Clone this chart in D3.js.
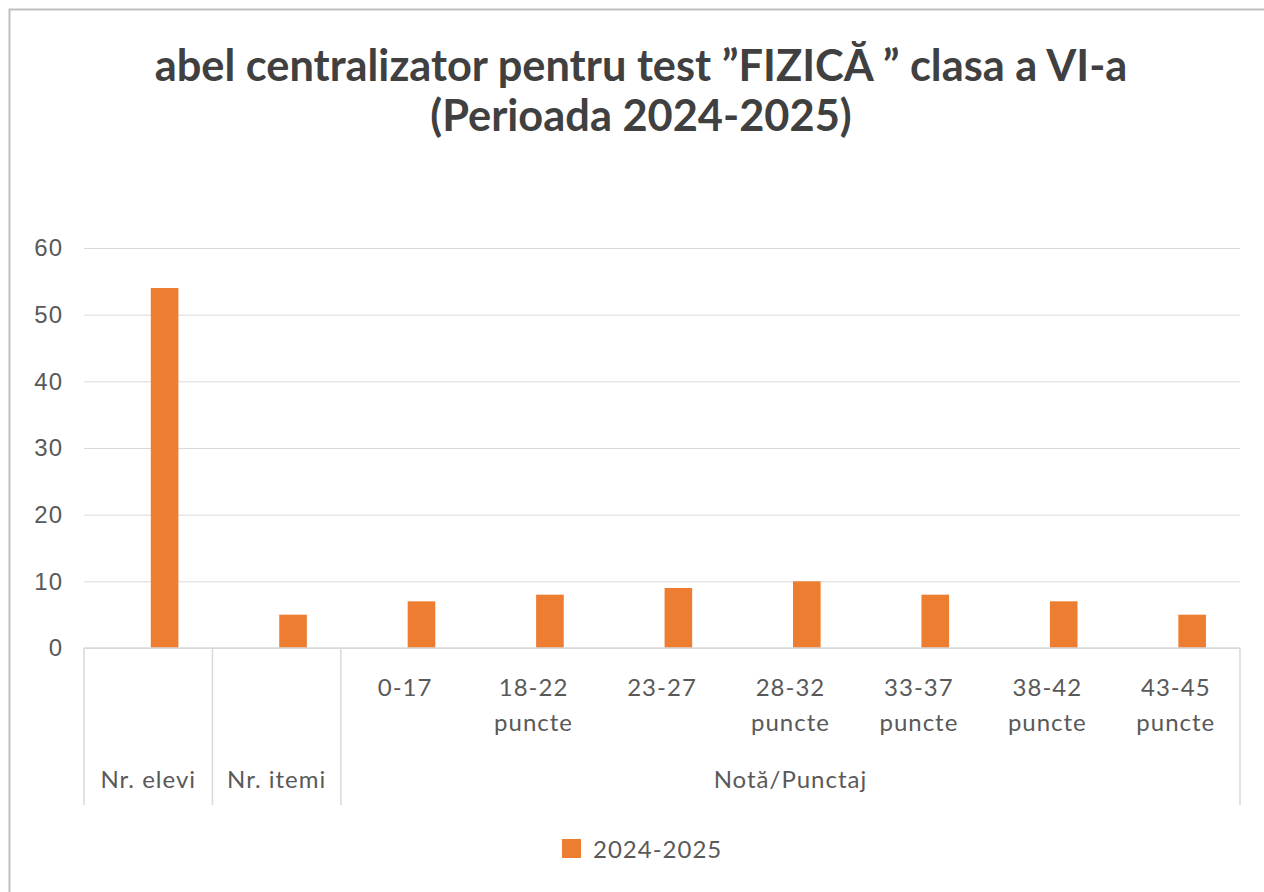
<!DOCTYPE html>
<html>
<head>
<meta charset="utf-8">
<script src="https://cdn.jsdelivr.net/npm/d3@7"></script>
<style>
  html, body { margin: 0; padding: 0; background: #fff; }
  svg { display: block; font-family: Lato, "Open Sans", sans-serif; }
</style>
</head>
<body>
<div id="chart"></div>
<script>
// data
const titleLines = ['abel centralizator pentru test ”FIZICĂ ” clasa a VI-a', '(Perioada 2024-2025)'];
const seriesName = '2024-2025';
const groups = ['Nr. elevi', 'Nr. itemi', 'Notă/Punctaj'];
const categoryGroup = ['Nr. elevi', 'Nr. itemi', 'Notă/Punctaj', 'Notă/Punctaj', 'Notă/Punctaj',
    'Notă/Punctaj', 'Notă/Punctaj', 'Notă/Punctaj', 'Notă/Punctaj'];
const categoryLabels = ['', '', '0-17', '18-22 puncte', '23-27', '28-32 puncte',
    '33-37 puncte', '38-42 puncte', '43-45 puncte'];
const values = [54, 5, 7, 8, 9, 10, 8, 7, 5];
const yTicks = [0, 10, 20, 30, 40, 50, 60];

const svgWidth = 1264;
const svgHeight = 892;
const margin = { top: 248, right: 24, bottom: 244, left: 84 };
const width = svgWidth - margin.left - margin.right;
const height = svgHeight - margin.top - margin.bottom;
const textColor = '#595959';
const lineColor = '#d9d9d9';
const barColor = '#ed7d31';
const labelSize = '24px';
const labelSpacing = '1px';

const svg = d3.select('#chart')
    .append('svg')
    .attr('width', svgWidth)
    .attr('height', svgHeight);

// chart area outline
svg.append('rect')
    .attr('x', 9.5)
    .attr('y', 9.5)
    .attr('width', svgWidth + 20)
    .attr('height', svgHeight + 20)
    .attr('fill', 'none')
    .attr('stroke', '#bfbfbf')
    .attr('stroke-width', 2);

// title, fitted to the width it has in the picture
const title = svg.append('g').attr('class', 'title');
const titleY = [81, 131];
titleLines.forEach((line, i) => {
    title.append('text')
        .attr('x', 641)
        .attr('y', titleY[i])
        .attr('text-anchor', 'middle')
        .style('font-size', '36px')
        .style('font-weight', 700)
        .style('fill', '#404040')
        .text(line);
});
const firstLen = title.select('text').node().getComputedTextLength();
const titleSize = 36 * 973 / firstLen;
title.selectAll('text').style('font-size', `${titleSize}px`);

const bounds = svg.append('g')
    .attr('transform', `translate(${margin.left}, ${margin.top})`);

const xScale = d3.scaleBand()
    .domain(d3.range(values.length))
    .range([0, width])
    .padding(0);

const yScale = d3.scaleLinear()
    .domain([0, 60])
    .range([height, 0]);

const yAxisGroup = bounds.append('g')
    .attr('class', 'y axis')
    .call(d3.axisLeft(yScale)
        .tickValues(yTicks)
        .tickSize(-width)
        .tickPadding(21));
yAxisGroup.select('.domain').remove();
yAxisGroup.selectAll('line').attr('stroke', lineColor);
yAxisGroup.selectAll('text')
    .style('font-size', labelSize)
    .style('letter-spacing', labelSpacing)
    .style('fill', textColor);

// bars sit a little right of the band centre, as in the original
const bw = xScale.bandwidth();
bounds.selectAll('.bar')
    .data(values)
    .enter()
    .append('rect')
    .attr('class', 'bar')
    .attr('x', (d, i) => xScale(i) + bw * 0.52)
    .attr('width', bw * 0.215)
    .attr('y', d => yScale(d))
    .attr('height', d => yScale(0) - yScale(d))
    .attr('fill', barColor);

// multi-level category axis
const axisBottom = bounds.append('g')
    .attr('class', 'x axis')
    .attr('transform', `translate(0, ${height})`);

axisBottom.append('line')
    .attr('x1', 0).attr('x2', width)
    .attr('y1', 0).attr('y2', 0)
    .attr('stroke', lineColor)
    .attr('stroke-width', 1.5);

const groupSpans = groups.map(g => {
    const idx = d3.range(values.length).filter(i => categoryGroup[i] === g);
    return {
        name: g,
        x0: xScale(idx[0]),
        x1: xScale(idx[idx.length - 1]) + bw
    };
});

const sepX = [0, ...groupSpans.map(s => s.x1)];
axisBottom.selectAll('.sep')
    .data(sepX)
    .enter()
    .append('line')
    .attr('class', 'sep')
    .attr('x1', d => d).attr('x2', d => d)
    .attr('y1', 0).attr('y2', 157)
    .attr('stroke', lineColor)
    .attr('stroke-width', 1.5);

axisBottom.selectAll('.cat')
    .data(categoryLabels)
    .enter()
    .append('text')
    .attr('class', 'cat')
    .attr('text-anchor', 'middle')
    .attr('transform', (d, i) => `translate(${xScale(i) + bw / 2}, 48)`)
    .style('font-size', labelSize)
    .style('letter-spacing', labelSpacing)
    .style('fill', textColor)
    .each(function (d) {
        const parts = d.split(' ');
        d3.select(this).selectAll('tspan')
            .data(parts)
            .enter()
            .append('tspan')
            .attr('x', 0)
            .attr('dy', (p, j) => j === 0 ? 0 : 35)
            .text(p => p);
    });

axisBottom.selectAll('.group')
    .data(groupSpans)
    .enter()
    .append('text')
    .attr('class', 'group')
    .attr('x', d => (d.x0 + d.x1) / 2)
    .attr('y', 140)
    .attr('text-anchor', 'middle')
    .style('font-size', labelSize)
    .style('letter-spacing', labelSpacing)
    .style('fill', textColor)
    .text(d => d.name);

// legend
const legend = svg.append('g')
    .attr('transform', 'translate(562, 839)');
legend.append('rect')
    .attr('width', 19)
    .attr('height', 19)
    .attr('fill', barColor);
legend.append('text')
    .attr('x', 31)
    .attr('y', 19)
    .style('font-size', labelSize)
    .style('letter-spacing', labelSpacing)
    .style('fill', textColor)
    .text(seriesName);
</script>
</body>
</html>
